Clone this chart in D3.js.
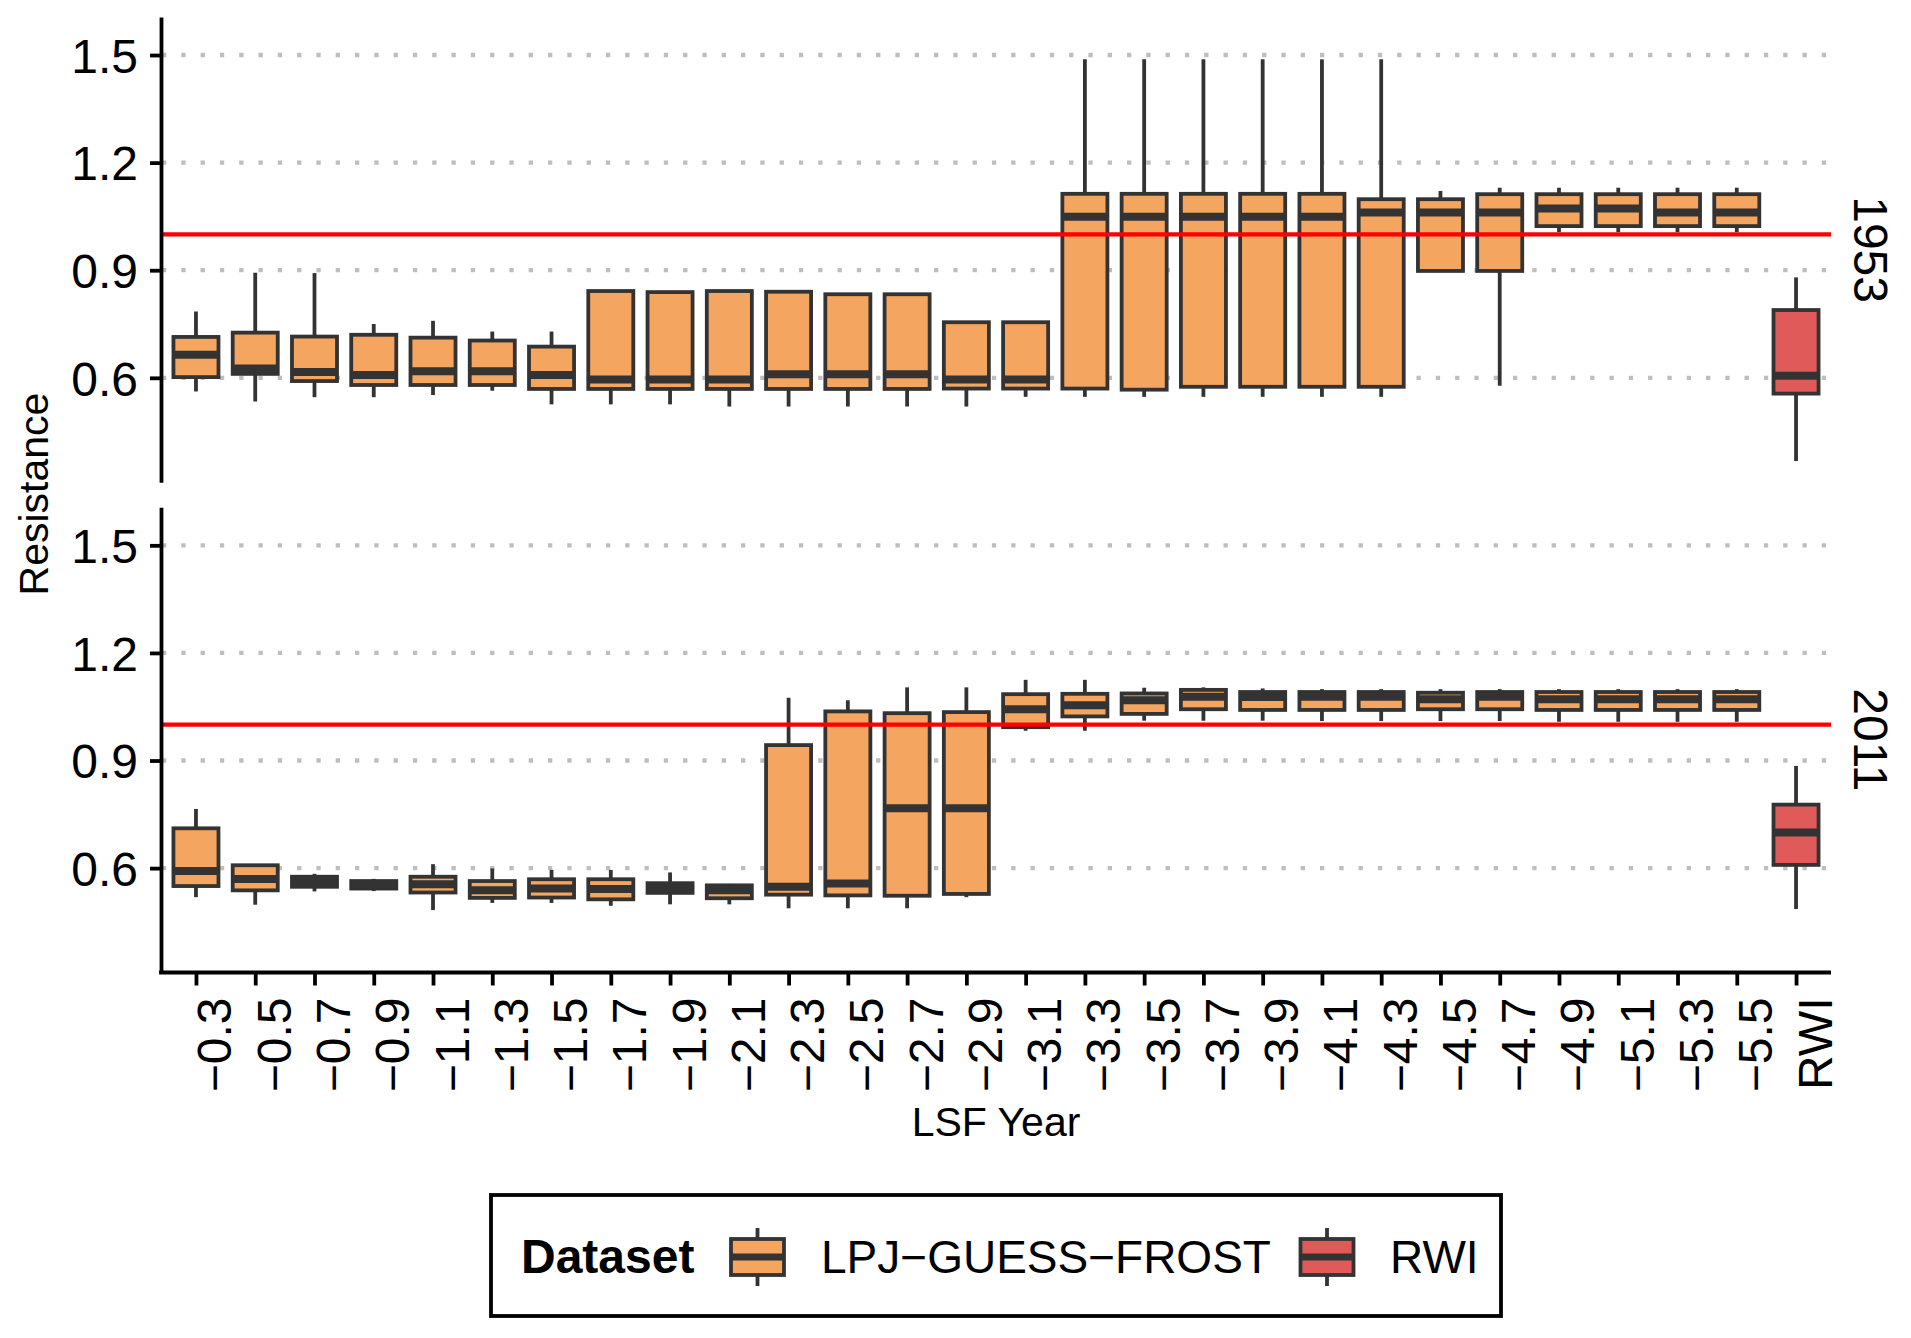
<!DOCTYPE html>
<html>
<head>
<meta charset="utf-8">
<script src="https://cdn.jsdelivr.net/npm/d3@7"></script>
<style>
  body { margin: 0; background: #fff; }
  svg { display: block; }
  text { font-family: "Liberation Sans", Arial, sans-serif; }
</style>
</head>
<body>
<svg id="chart"></svg>
<script>
// categories on the x axis (LSF year offsets + the RWI reference)
const categories = ["−0.3", "−0.5", "−0.7", "−0.9", "−1.1", "−1.3", "−1.5", "−1.7", "−1.9",
  "−2.1", "−2.3", "−2.5", "−2.7", "−2.9", "−3.1", "−3.3", "−3.5", "−3.7", "−3.9", "−4.1",
  "−4.3", "−4.5", "−4.7", "−4.9", "−5.1", "−5.3", "−5.5", "RWI"];
const datasets = ["LPJ−GUESS−FROST", "RWI"];
const panels = ["1953", "2011"];
const yTicks = [0.6, 0.9, 1.2, 1.5];

// 1953 box summaries
const low1953 = [0.562, 0.534, 0.546, 0.546, 0.552, 0.564, 0.526, 0.526, 0.526, 0.520, 0.520, 0.520, 0.520, 0.520,
  0.547, 0.547, 0.547, 0.547, 0.547, 0.547, 0.547, 0.896, 0.578, 1.006, 1.006, 1.006, 1.006, 0.368];
const q1_1953 = [0.602, 0.611, 0.591, 0.580, 0.580, 0.580, 0.569, 0.569, 0.569, 0.569, 0.569, 0.569, 0.569, 0.570,
  0.570, 0.570, 0.567, 0.575, 0.575, 0.575, 0.575, 0.898, 0.898, 1.023, 1.023, 1.023, 1.023, 0.556];
const med1953 = [0.664, 0.626, 0.616, 0.608, 0.618, 0.618, 0.608, 0.595, 0.595, 0.595, 0.610, 0.610, 0.610, 0.595,
  0.595, 1.049, 1.049, 1.049, 1.049, 1.049, 1.061, 1.061, 1.061, 1.072, 1.072, 1.061, 1.061, 0.606];
const q3_1953 = [0.714, 0.726, 0.715, 0.720, 0.712, 0.704, 0.687, 0.842, 0.839, 0.842, 0.840, 0.833, 0.833, 0.755,
  0.755, 1.113, 1.113, 1.113, 1.113, 1.113, 1.098, 1.098, 1.112, 1.112, 1.112, 1.112, 1.112, 0.789];
const high1953 = [0.785, 0.893, 0.892, 0.750, 0.759, 0.729, 0.729, 0.842, 0.839, 0.842, 0.840, 0.833, 0.833, 0.755,
  0.755, 1.488, 1.488, 1.488, 1.488, 1.488, 1.488, 1.121, 1.130, 1.130, 1.130, 1.130, 1.130, 0.880];

// 2011 box summaries
const low2011 = [0.519, 0.498, 0.535, 0.536, 0.483, 0.503, 0.503, 0.495, 0.499, 0.499, 0.488, 0.488, 0.488, 0.519,
  0.983, 0.983, 1.011, 1.011, 1.011, 1.010, 1.010, 1.010, 1.010, 1.008, 1.008, 1.008, 1.008, 0.486];
const q1_2011 = [0.550, 0.538, 0.548, 0.543, 0.532, 0.517, 0.518, 0.513, 0.531, 0.516, 0.526, 0.524, 0.523, 0.528,
  0.993, 1.023, 1.030, 1.043, 1.041, 1.041, 1.041, 1.043, 1.043, 1.041, 1.041, 1.041, 1.041, 0.609];
const med2011 = [0.592, 0.570, 0.563, 0.554, 0.555, 0.538, 0.543, 0.542, 0.544, 0.538, 0.548, 0.557, 0.767, 0.767,
  1.043, 1.054, 1.068, 1.078, 1.077, 1.078, 1.078, 1.071, 1.078, 1.071, 1.071, 1.071, 1.071, 0.699];
const q3_2011 = [0.711, 0.608, 0.576, 0.564, 0.576, 0.564, 0.569, 0.569, 0.558, 0.552, 0.943, 1.037, 1.032, 1.035,
  1.085, 1.086, 1.087, 1.097, 1.091, 1.091, 1.091, 1.089, 1.091, 1.091, 1.091, 1.091, 1.091, 0.777];
const high2011 = [0.765, 0.608, 0.584, 0.570, 0.611, 0.599, 0.595, 0.595, 0.588, 0.556, 1.075, 1.068, 1.104, 1.104,
  1.125, 1.125, 1.103, 1.104, 1.101, 1.099, 1.099, 1.099, 1.099, 1.099, 1.099, 1.099, 1.099, 0.885];

const W = 1911, H = 1338;
const colors = { "LPJ−GUESS−FROST": "#F4A55F", "RWI": "#E15A5A" };
const ink = "#333333";

const svg = d3.select("#chart").attr("width", W).attr("height", H);

//Scales
const x = d3.scalePoint()
  .domain(categories)
  .range([161, 1831])
  .padding(0.59);
const boxW = x.step() * 0.76;

const panelTops = [17, 507.3];
const panelH = 465.2;

function boxRows(low, q1, med, q3, high) {
  return categories.map((c, i) => ({
    cat: c,
    dataset: c === "RWI" ? "RWI" : datasets[0],
    low: low[i], q1: q1[i], med: med[i], q3: q3[i], high: high[i]
  }));
}
const panelData = [
  boxRows(low1953, q1_1953, med1953, q3_1953, high1953),
  boxRows(low2011, q1_2011, med2011, q3_2011, high2011)
];

panels.forEach((name, p) => {
  const y = d3.scaleLinear()
    .domain([0.309, 1.606])
    .range([panelTops[p] + panelH, panelTops[p]]);

  const g = svg.append("g").attr("class", "panel");

  //Dotted gridlines
  g.append("g")
    .selectAll("line")
    .data(yTicks)
    .join("line")
    .attr("x1", 161).attr("x2", 1831)
    .attr("y1", d => y(d)).attr("y2", d => y(d))
    .attr("stroke", "#BEBEBE")
    .attr("stroke-width", 4.3)
    .attr("stroke-dasharray", "4.3 15")
    .attr("stroke-dashoffset", -1);

  //Boxes
  const boxes = g.append("g")
    .selectAll("g.box")
    .data(panelData[p])
    .join("g")
    .classed("box", true)
    .attr("transform", d => `translate(${x(d.cat)},0)`);

  boxes.append("line")
    .attr("y1", d => y(d.high)).attr("y2", d => y(d.q3))
    .attr("stroke", ink).attr("stroke-width", 3.8);
  boxes.append("line")
    .attr("y1", d => y(d.q1)).attr("y2", d => y(d.low))
    .attr("stroke", ink).attr("stroke-width", 3.8);

  boxes.append("rect")
    .attr("x", -boxW / 2)
    .attr("width", boxW)
    .attr("y", d => y(d.q3))
    .attr("height", d => Math.max(0.5, y(d.q1) - y(d.q3)))
    .attr("fill", d => colors[d.dataset])
    .attr("stroke", ink)
    .attr("stroke-width", 3.8);

  boxes.append("line")
    .attr("x1", -boxW / 2).attr("x2", boxW / 2)
    .attr("y1", d => y(d.med)).attr("y2", d => y(d.med))
    .attr("stroke", ink).attr("stroke-width", 8);

  //Reference line at 1
  g.append("line")
    .attr("x1", 161).attr("x2", 1831)
    .attr("y1", y(1)).attr("y2", y(1))
    .attr("stroke", "#FF0000")
    .attr("stroke-width", 4.4);

  //Y axis
  const yAxis = g.append("g")
    .attr("transform", "translate(161,0)")
    .call(d3.axisLeft(y).tickValues(yTicks).tickFormat(d3.format(".1f"))
      .tickSize(11).tickSizeOuter(0).tickPadding(12));
  yAxis.select(".domain").attr("stroke", "#000").attr("stroke-width", 3.8);
  yAxis.selectAll(".tick line").attr("stroke", "#000").attr("stroke-width", 3.8);
  yAxis.selectAll(".tick text")
    .attr("fill", "#000")
    .attr("dy", "0.36em")
    .style("font-size", "48px")
    .style("font-family", "'Liberation Sans', Arial, sans-serif");

  //Strip label on the right
  g.append("text")
    .attr("transform", `translate(1854,${panelTops[p] + panelH / 2}) rotate(90)`)
    .attr("text-anchor", "middle")
    .style("font-size", "48px")
    .text(name);

  //X axis only under the last panel
  if (p === panels.length - 1) {
    const xAxis = g.append("g")
      .attr("transform", `translate(0,${panelTops[p] + panelH})`)
      .call(d3.axisBottom(x).tickSize(13).tickSizeOuter(0));
    xAxis.select(".domain").attr("stroke", "#000").attr("stroke-width", 3.8)
      .attr("d", "M159.1,0H1831");
    xAxis.selectAll(".tick line").attr("stroke", "#000").attr("stroke-width", 3.8);
    xAxis.selectAll(".tick text")
      .attr("transform", "rotate(-90)")
      .attr("text-anchor", "end")
      .attr("x", -25)
      .attr("y", 35)
      .attr("dy", null)
      .attr("fill", "#000")
      .style("font-size", "48px")
      .style("font-family", "'Liberation Sans', Arial, sans-serif");
  }
});

//Axis titles
svg.append("text")
  .attr("x", 996).attr("y", 1136)
  .attr("text-anchor", "middle")
  .style("font-size", "41px")
  .text("LSF Year");

svg.append("text")
  .attr("transform", "translate(48,494) rotate(-90)")
  .attr("text-anchor", "middle")
  .style("font-size", "41px")
  .text("Resistance");

//Legend
const legend = svg.append("g").attr("class", "legend");
legend.append("rect")
  .attr("x", 491).attr("y", 1195)
  .attr("width", 1010).attr("height", 121)
  .attr("fill", "none")
  .attr("stroke", "#000")
  .attr("stroke-width", 3.8);

legend.append("text")
  .attr("x", 521).attr("y", 1273)
  .style("font-size", "48px")
  .style("font-weight", "bold")
  .text("Dataset");

const keyX = [757.5, 1327];
const labelX = [821, 1390];
const keys = legend.selectAll("g.key")
  .data(datasets)
  .join("g")
  .classed("key", true)
  .attr("transform", (d, i) => `translate(${keyX[i]},0)`);

keys.append("line")
  .attr("y1", 1228).attr("y2", 1286)
  .attr("stroke", ink).attr("stroke-width", 3.8);
keys.append("rect")
  .attr("x", -26.5).attr("width", 53)
  .attr("y", 1239).attr("height", 36)
  .attr("fill", d => colors[d])
  .attr("stroke", ink).attr("stroke-width", 3.8);
keys.append("line")
  .attr("x1", -26.5).attr("x2", 26.5)
  .attr("y1", 1257).attr("y2", 1257)
  .attr("stroke", ink).attr("stroke-width", 7);

legend.selectAll("text.key-label")
  .data(datasets)
  .join("text")
  .classed("key-label", true)
  .attr("x", (d, i) => labelX[i])
  .attr("y", 1273)
  .style("font-size", "46px")
  .text(d => d);
</script>
</body>
</html>
